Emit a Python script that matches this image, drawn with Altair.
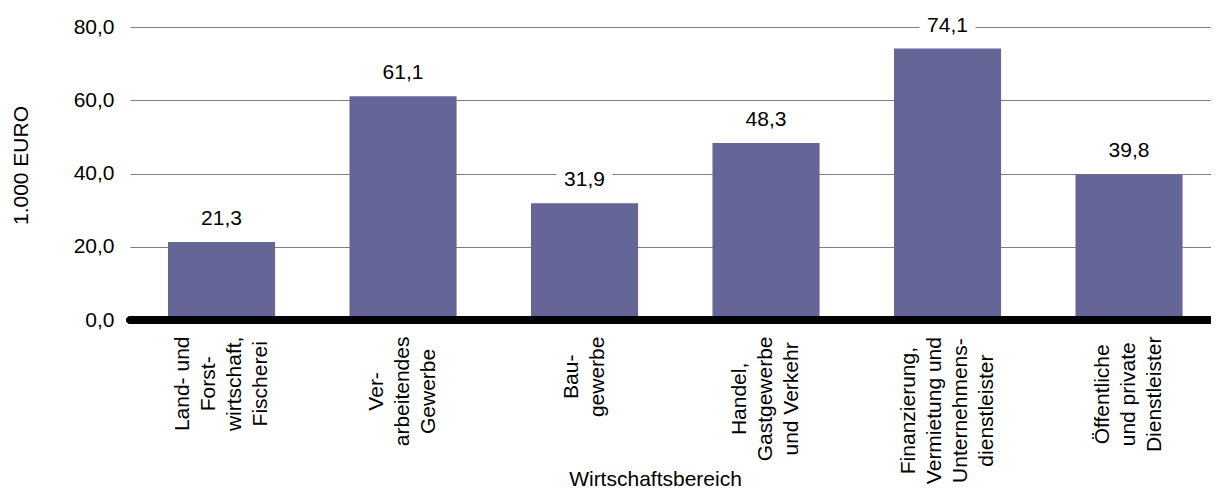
import json
import altair as alt
import pandas as pd

# ---- data ----
category_lines = [
    ["Land- und", "Forst-", "wirtschaft,", "Fischerei"],
    ["Ver-", "arbeitendes", "Gewerbe"],
    ["Bau-", "gewerbe"],
    ["Handel,", "Gastgewerbe", "und Verkehr"],
    ["Finanzierung,", "Vermietung und", "Unternehmens-", "dienstleister"],
    ["Öffentliche", "und private", "Dienstleister"],
]
values = [21.3, 61.1, 31.9, 48.3, 74.1, 39.8]
y_ticks = [0, 20, 40, 60, 80]
y_title = "1.000 EURO"
x_title = "Wirtschaftsbereich"

# ---- style ----
FONT = "Liberation Sans"
FS = 21
LH = 26
BAR_COLOR = "#656597"
GRID_COLOR = "#7f7f7f"

keys = ["|".join(lines) for lines in category_lines]
df = pd.DataFrame({"bereich": keys, "wert": values})

# Arial / Liberation Sans advance widths (1/1000 em) to top-align rotated label blocks
ARIAL = {
    " ": 278, ",": 278, "-": 333,
    "a": 556, "b": 556, "c": 500, "d": 556, "e": 556, "f": 278, "g": 556,
    "h": 556, "i": 222, "k": 500, "l": 222, "m": 833, "n": 556, "o": 556,
    "p": 556, "r": 333, "s": 500, "t": 278, "u": 556, "v": 500, "w": 722,
    "z": 500, "B": 667, "D": 722, "F": 611, "G": 778, "H": 722, "L": 556,
    "U": 722, "V": 667, "Ö": 778,
}


def text_w(s):
    return sum(ARIAL.get(ch, 556) for ch in s) * FS / 1000.0


pads = [round(16 + max(text_w(l) for l in lines) / 2.0, 1) for lines in category_lines]
offs = [-(len(lines) - 1) * LH / 2.0 for lines in category_lines]
keys_js = json.dumps(keys, ensure_ascii=False)
pad_expr = f"{json.dumps(pads)}[indexof({keys_js}, datum.value)]"
off_expr = f"{json.dumps(offs)}[indexof({keys_js}, datum.value)]"

fmt_expr = "replace(format(datum.value, '.1f'), '.', ',')"

x_enc = alt.X(
    "bereich:N",
    sort=keys,
    scale=alt.Scale(paddingInner=0.41, paddingOuter=0.183, align=0.572),
    axis=alt.Axis(
        title=x_title,
        labelAngle=-90,
        labelAlign="center",
        labelBaseline="middle",
        labelPadding={"expr": pad_expr},
        labelOffset={"expr": off_expr},
        labelExpr="split(datum.value, '|')",
        labelLineHeight=LH,
        labelFontSize=FS,
        labelFont=FONT,
        labelColor="black",
        labelLimit=0,
        labelOverlap=False,
        domain=False,
        ticks=False,
        titleFontSize=FS,
        titleFont=FONT,
        titleFontWeight="normal",
        titleColor="black",
        titleBaseline="alphabetic",
        titleAlign="center",
        titleX=525,
        titleY=165,
    ),
)

y_scale = alt.Scale(domain=[0, 80], nice=False)
y_enc = alt.Y(
    "wert:Q",
    scale=y_scale,
    axis=alt.Axis(
        title=y_title,
        values=y_ticks,
        labelExpr=fmt_expr,
        labelFontSize=FS,
        labelFont=FONT,
        labelColor="black",
        labelPadding=16,
        domain=False,
        ticks=False,
        grid=True,
        gridColor=GRID_COLOR,
        gridWidth=1,
        titleFontSize=FS,
        titleFont=FONT,
        titleFontWeight="normal",
        titleColor="black",
        titleBaseline="middle",
        titleAngle=-90,
        titleX=-109,
        titleY=138,
    ),
)

base = alt.Chart(df).transform_calculate(
    txt="replace(format(datum.wert, '.1f'), '.', ',')"
)

bars = base.mark_bar(color=BAR_COLOR).encode(x=x_enc, y=y_enc)

BOX_W, BOX_H = 56, 24
box_shape = f"M-1,-{BOX_H / BOX_W:.4f}H1V{BOX_H / BOX_W:.4f}H-1Z"
boxes = base.mark_point(
    shape=box_shape, filled=True, fill="white", opacity=1, strokeWidth=0,
    size=BOX_W * BOX_W, yOffset=-23,
).encode(x=alt.X("bereich:N", sort=keys), y=alt.Y("wert:Q"))

labels = base.mark_text(
    font=FONT, fontSize=FS, color="black", baseline="middle", dy=-23
).encode(x=alt.X("bereich:N", sort=keys), y=alt.Y("wert:Q"), text="txt:N")

baseline_rule = alt.Chart(df).mark_rule(
    color="black", strokeWidth=7, strokeCap="round"
).encode(y=alt.datum(0))

chart = (
    alt.layer(bars, boxes, labels, baseline_rule)
    .properties(
        width=1081,
        height=293,
        autosize=alt.AutoSizeParams(type="none"),
        padding={"left": 122, "top": 19, "right": 0, "bottom": 172},
        background="white",
    )
    .configure_view(stroke=None)
)

chart.save("out.html", embed_options={"renderer": "svg", "actions": False})
